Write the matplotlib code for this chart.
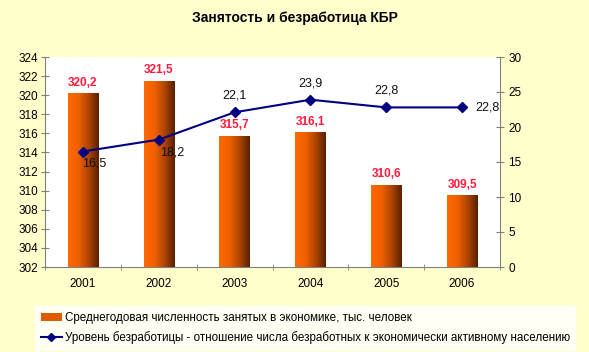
import matplotlib.pyplot as plt
import numpy as np
from matplotlib.lines import Line2D
from matplotlib.patches import Patch
from matplotlib.colors import LinearSegmentedColormap

plt.rcParams['font.family'] = ['Liberation Sans', 'DejaVu Sans']

years = ['2001', '2002', '2003', '2004', '2005', '2006']
employed = [320.2, 321.5, 315.7, 316.1, 310.6, 309.5]
unemployment = [16.5, 18.2, 22.1, 23.9, 22.8, 22.8]
bar_label = 'Среднегодовая численность занятых в экономике, тыс. человек'
line_label = 'Уровень безработицы - отношение числа безработных к экономически активному населению'

bg = '#FFFFCC'
fig = plt.figure(figsize=(5.89, 3.52), dpi=100, facecolor=bg)
ax = fig.add_axes([45/589, 1 - 267/352, 455/589, 210/352])
ax.set_facecolor('white')
ax2 = ax.twinx()

x = np.arange(len(years))
bars = ax.bar(x, employed, width=0.4, color='#FF6600', zorder=2)
grad = np.linspace(0, 1, 64).reshape(1, -1)
cmap = LinearSegmentedColormap.from_list('o', ['#FF6A00', '#F06000', '#B04500', '#5A2000'])
for b in bars:
    x0, w, h = b.get_x(), b.get_width(), b.get_height()
    im = ax.imshow(grad, cmap=cmap, aspect='auto', extent=[x0, x0 + w, 302, h], zorder=3)
    im.set_clip_path(b)
for xi, v in zip(x, employed):
    ax.text(xi, v + 0.5, f'{v:.1f}'.replace('.', ','), ha='center', va='bottom',
            color='#FF1A3C', fontsize=8.5, fontweight='bold', zorder=5)

ax.set_xlim(-0.5, len(years) - 0.5)
ax.set_ylim(302, 324)
ax.set_yticks(np.arange(302, 325, 2))
ax.set_xticks(x)
ax.set_xticklabels(years)
ax.set_xticks(np.arange(-0.5, len(years), 1), minor=True)
ax.tick_params(axis='x', which='major', length=0, pad=8, labelsize=8.5)
ax.tick_params(axis='x', which='minor', length=5, direction='inout', color='#808080')
ax.tick_params(axis='y', length=6, direction='inout', color='#808080', labelsize=8.5, pad=2)

ax2.plot(x, unemployment, color='#000080', marker='D', markersize=5, lw=1.5, zorder=6)
ax2.set_ylim(0, 30)
ax2.set_yticks(np.arange(0, 31, 5))
ax2.tick_params(axis='y', length=6, direction='inout', color='#808080', labelsize=8.5, pad=3)
offsets = [(8, -9), (10, -9), (0, 12), (0, 12), (0, 12), (18, 0)]
for xi, v, (dx, dy) in zip(x, unemployment, offsets):
    ax2.annotate(f'{v:.1f}'.replace('.', ','), (xi, v), xytext=(dx, dy), textcoords='offset points',
                 ha='center', va='center', fontsize=9, color='#111111', zorder=7)

for a in (ax, ax2):
    a.spines['top'].set_visible(False)
    for s in ('left', 'right', 'bottom'):
        a.spines[s].set_color('#808080')
ax.spines['right'].set_visible(False)
ax2.spines['left'].set_visible(False)
ax2.spines['bottom'].set_visible(False)

fig.text(0.5, 1 - 18/352, 'Занятость и безработица КБР', ha='center', va='center',
         fontsize=10, fontweight='bold')

handles = [Patch(facecolor='#E05A00', edgecolor='none'),
           Line2D([0], [0], color='#000080', marker='D', markersize=4, lw=1.5)]
leg = fig.legend(handles, [bar_label, line_label], loc='lower left',
                 bbox_to_anchor=(35/589, 2/352, 540/589, 46/352), mode='expand',
                 fontsize=8.4, frameon=True, fancybox=False, handlelength=1.8,
                 handletextpad=0.3, borderaxespad=0, labelspacing=0.6, borderpad=0.5)
leg.get_frame().set_facecolor('white')
leg.get_frame().set_edgecolor('white')

fig.savefig('out.png', dpi=100, facecolor=bg)
